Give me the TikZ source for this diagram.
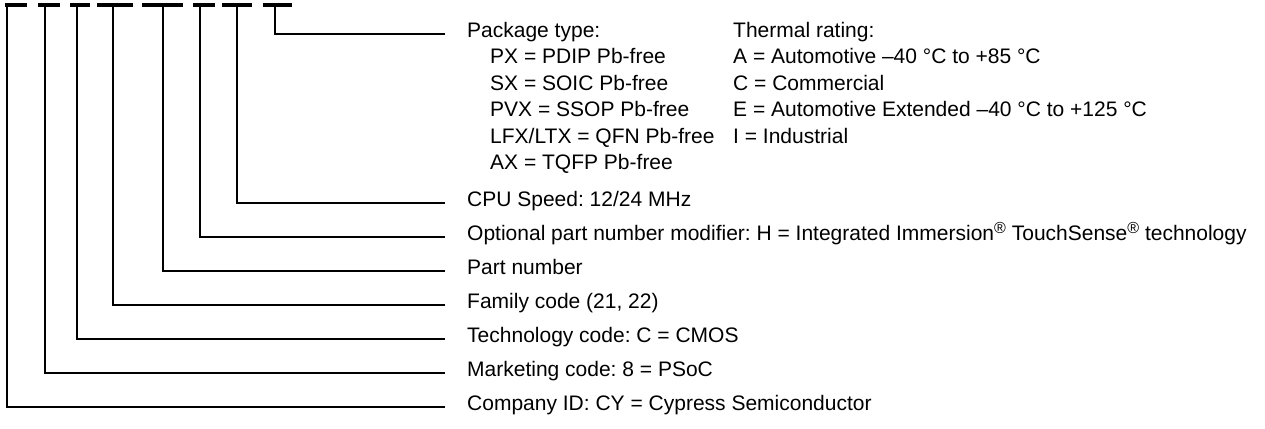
\documentclass[tikz,border=0pt]{standalone}
\usepackage{fontspec}
\setmainfont{Liberation Sans}
\frenchspacing
\usetikzlibrary{positioning}

\newcommand{\regmark}{\raisebox{0.6ex}{\fontsize{16}{16}\selectfont ®}}

\tikzset{
  field/.style={line width=4pt},
  lead/.style={line width=2pt},
  desc/.style={anchor=base west, inner sep=0pt, font=\fontsize{21}{26}\selectfont},
}

\begin{document}
\begin{tikzpicture}[x=1pt,y=-1pt]
\useasboundingbox (0,0) rectangle (1265,428);

% Part number fields

\foreach \fname/\a/\b/\v in {co/5/27/7, mk/38/60/45, tc/70/90/77, fm/97/133/113,
    pn/142/183/163, op/193/215/200, sp/222/252/237, pk/263/292/275}{
  \draw[field] (\a,5.3) -- (\b,5.3);
  \coordinate (\fname) at (\v,5.3);
}

% Descriptions

\node[desc] (pkgtype) at (467,37.3) {Package type:};
\node[desc] (px) at (490,63.8) {PX = PDIP Pb-free};
\node[desc] (sx) at (490,90.3) {SX = SOIC Pb-free};
\node[desc] (pvx) at (490,116.8) {PVX = SSOP Pb-free};
\node[desc] (lfx) at (490,143.3) {LFX/LTX = QFN Pb-free};
\node[desc] (ax) at (490,169.8) {AX = TQFP Pb-free};

\node[desc] (thermal) at (733,37.3) {Thermal rating:};
\node[desc] (tauto) at (733,63.8) {A = Automotive –40 °C to +85 °C};
\node[desc] (tcomm) at (733,90.3) {C = Commercial};
\node[desc] (textd) at (733,116.8) {E = Automotive Extended –40 °C to +125 °C};
\node[desc] (tind) at (733,143.3) {I = Industrial};

\node[desc] (cpu) at (467,206) {CPU Speed: 12/24 MHz};
\node[desc] (opt) at (467,240) {Optional part number modifier: H = Integrated Immersion\regmark{} TouchSense\regmark{} technology};
\node[desc] (part) at (467,274) {Part number};
\node[desc] (family) at (467,308) {Family code (21, 22)};
\node[desc] (tech) at (467,342) {Technology code: C = CMOS};
\node[desc] (mkt) at (467,376) {Marketing code: 8 = PSoC};
\node[desc] (company) at (467,410) {Company ID: CY = Cypress Semiconductor};

% Leads

\draw[lead] (pk) |- ([shift={(-22,-3)}]pkgtype.base west);
\draw[lead] (sp) |- ([shift={(-22,-3)}]cpu.base west);
\draw[lead] (op) |- ([shift={(-22,-3)}]opt.base west);
\draw[lead] (pn) |- ([shift={(-22,-3)}]part.base west);
\draw[lead] (fm) |- ([shift={(-22,-3)}]family.base west);
\draw[lead] (tc) |- ([shift={(-22,-3)}]tech.base west);
\draw[lead] (mk) |- ([shift={(-22,-3)}]mkt.base west);
\draw[lead] (co) |- ([shift={(-22,-3)}]company.base west);

\end{tikzpicture}
\end{document}
